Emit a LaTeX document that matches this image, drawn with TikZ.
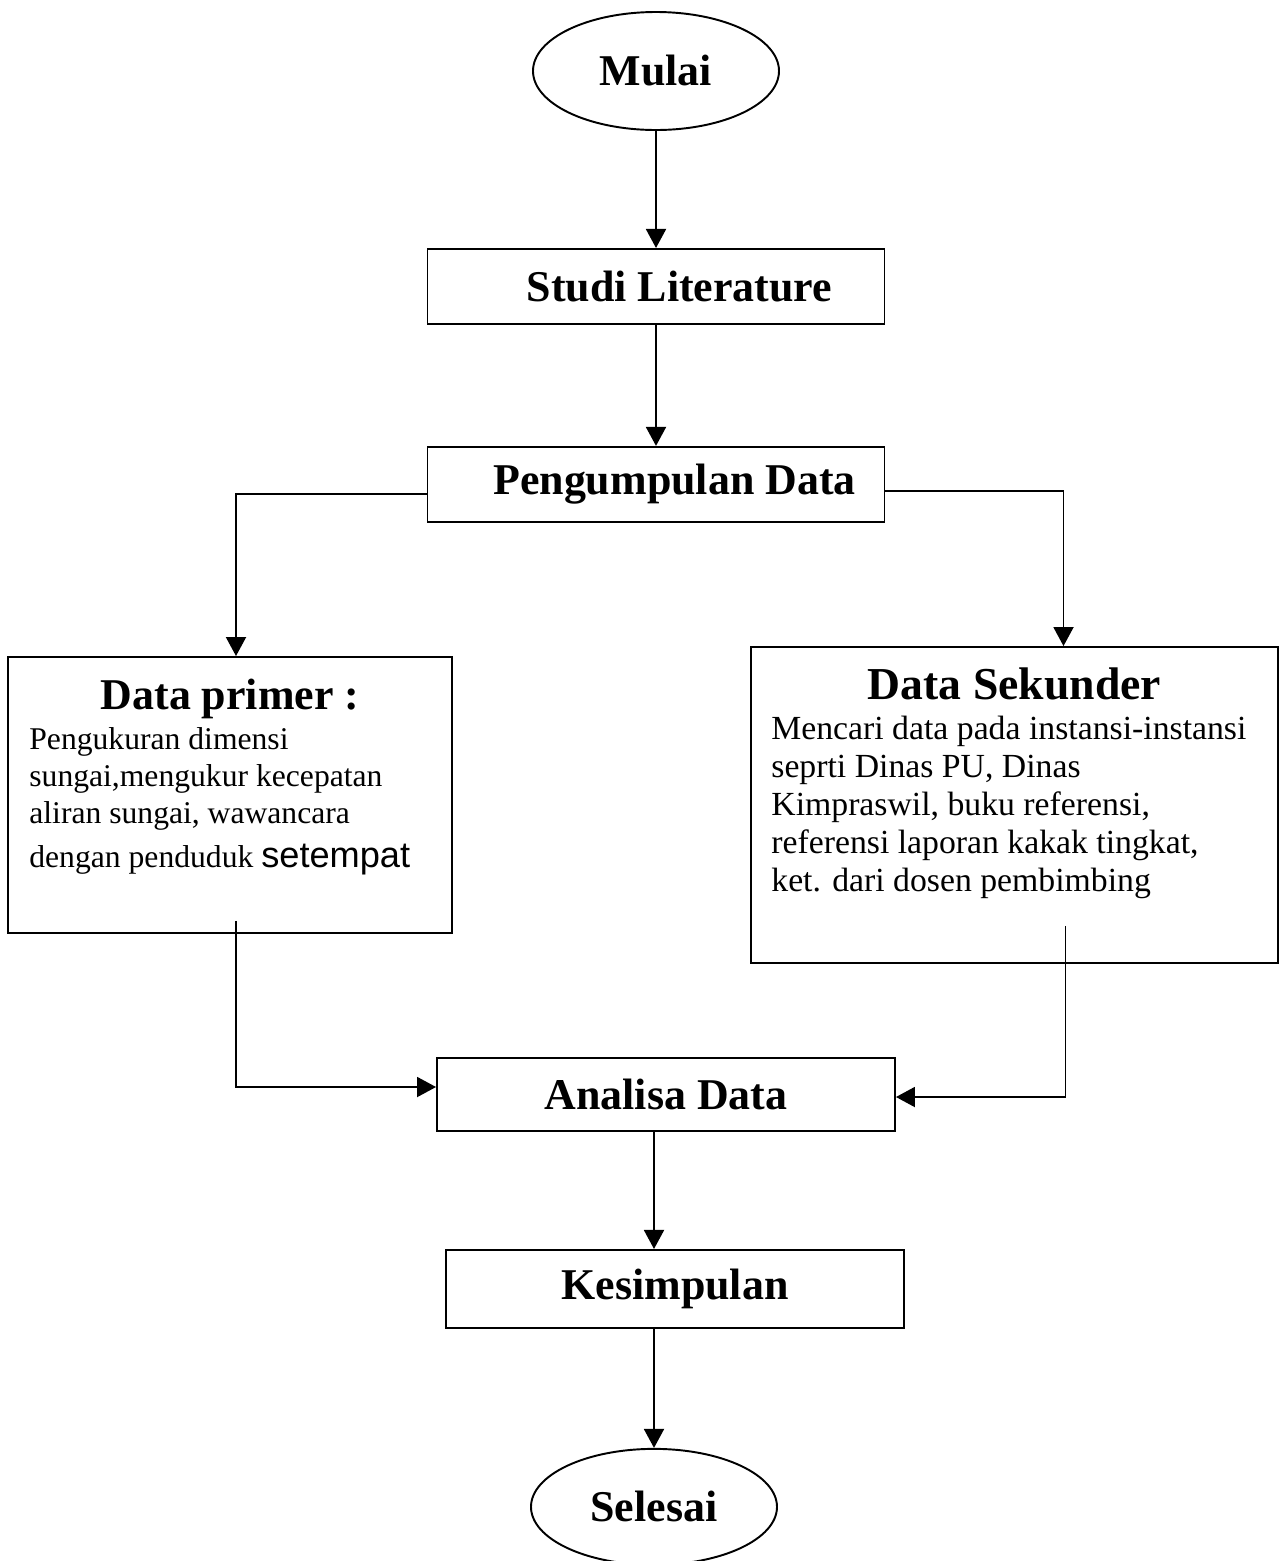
\documentclass[tikz,border=0pt]{standalone}
\usepackage{fontspec}
\setmainfont{Liberation Serif}
\newfontfamily\arialfont{Liberation Sans}
\usepackage{xcolor}
\usepackage{tikz}
\usetikzlibrary{arrows.meta, positioning, shapes.geometric, calc}

\begin{document}
\begin{tikzpicture}[
  term/.style={ellipse, draw, line width=1.1pt, minimum width=4.92cm, minimum height=2.36cm, font=\bfseries\fontsize{25}{30}\selectfont},
  box/.style={rectangle, draw, line width=1.1pt, minimum width=9.14cm, minimum height=1.5cm, font=\bfseries\fontsize{25}{30}\selectfont},
  bigbox/.style={rectangle, draw, line width=1.1pt},
  head/.style={inner sep=0pt, font=\bfseries\fontsize{25}{30}\selectfont},
  body/.style={inner sep=0pt, align=left, font=\fontsize{18}{21}\selectfont},
  arrow/.style={-{Triangle[length=0.38cm, width=0.4cm]}, line width=1.1pt},
]
  \useasboundingbox (0,0) rectangle (25.64,-31.22);

  \node[term] (mulai) at (13.12,-1.42) {Mulai};
  \node[box, below=2.34cm of mulai] (studi) {\hspace*{0.94cm}Studi Literature};
  \node[box, below=2.42cm of studi] (kumpul) {\hspace*{0.74cm}Pengumpulan Data};

  % sumber data
  \node[bigbox, minimum width=8.88cm, minimum height=5.52cm] (prim) at (4.6,-15.9) {};
  \node[head, below=0.46cm of prim.north] (primhead) {Data primer :};
  \node[body, anchor=north west] (primtxt) at ([xshift=0.44cm, yshift=-1.42cm]prim.north west)
    {Pengukuran dimensi\\ sungai,mengukur kecepatan\\ aliran sungai, wawancara\\[4.5pt] dengan penduduk {\arialfont\fontsize{20.6}{21}\selectfont setempat}};

  \node[bigbox, minimum width=10.54cm, minimum height=6.32cm] (sek) at (20.29,-16.1) {};
  \node[head, font=\bfseries\fontsize{26}{30}\selectfont, below=0.42cm of sek.north] (sekhead) {Data Sekunder};
  \node[body, font=\fontsize{19.2}{21.6}\selectfont, anchor=north west] (sektxt) at ([xshift=0.42cm, yshift=-1.4cm]sek.north west)
    {Mencari data pada instansi-instansi\\ seprti Dinas PU, Dinas\\ Kimpraswil, buku referensi,\\ referensi laporan kakak tingkat,\\ ket. dari dosen pembimbing};

  \node[box, minimum width=9.16cm, minimum height=1.46cm] (analisa) at (13.32,-21.89) {Analisa Data};
  \node[box, minimum width=9.16cm, minimum height=1.56cm, below=2.34cm of analisa, xshift=0.18cm] (simpul) {Kesimpulan};
  \node[term, minimum height=2.32cm, below=2.38cm of simpul, xshift=-0.42cm] (selesai) {Selesai};

  \coordinate (primout) at ([xshift=0.12cm, yshift=0.26cm]prim.south);
  \coordinate (sekout) at ([xshift=1.02cm, yshift=0.76cm]sek.south);

  \draw[arrow] (mulai) -- (studi);
  \draw[arrow] (studi) -- (kumpul);
  \draw[arrow] ([yshift=-0.2cm]kumpul.west) -| ([xshift=0.12cm]prim.north);
  \draw[arrow] ([yshift=-0.14cm]kumpul.east) -| ([xshift=0.98cm]sek.north);
  \draw[arrow] (primout) |- ([yshift=0.15cm]analisa.west);
  \draw[arrow] (sekout) |- ([yshift=-0.05cm]analisa.east);
  \draw[arrow] ([xshift=-0.24cm]analisa.south) -- ([xshift=-0.24cm]analisa.south |- simpul.north);
  \draw[arrow] (selesai.north |- simpul.south) -- (selesai);
\end{tikzpicture}
\end{document}
